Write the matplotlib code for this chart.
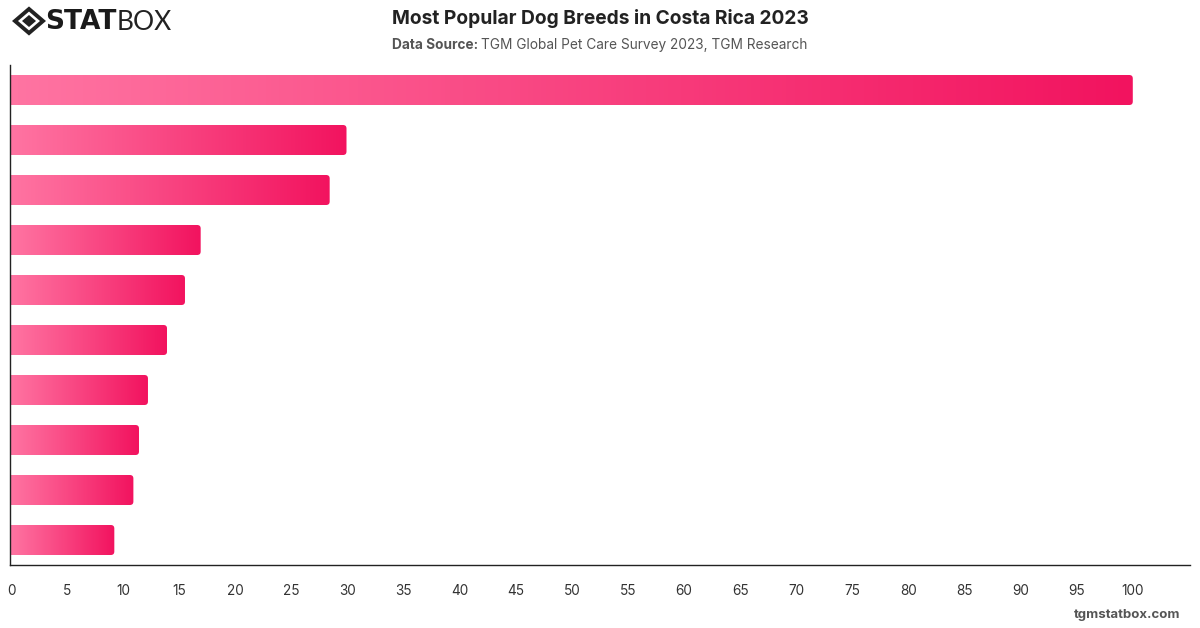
import numpy as np
import matplotlib
matplotlib.use("Agg")
import matplotlib.pyplot as plt
from matplotlib.patches import FancyBboxPatch, Polygon
from matplotlib.colors import LinearSegmentedColormap

# values, top bar first
values = [100, 29.9, 28.4, 16.9, 15.5, 13.9, 12.2, 11.4, 10.9, 9.2]
xticks = list(range(0, 105, 5))

title = "Most Popular Dog Breeds in Costa Rica 2023"
source_bold = "Data Source: "
source_text = "TGM Global Pet Care Survey 2023, TGM Research"

plt.rcParams['font.family'] = ['Inter', 'DejaVu Sans']

W, H = 1200, 628
fig = plt.figure(figsize=(W / 100, H / 100), dpi=100)
fig.patch.set_facecolor('white')

ax_l, ax_r, ax_t, ax_b = 10, 1190, 65, 565
ax = fig.add_axes([ax_l / W, 1 - ax_b / H, (ax_r - ax_l) / W, (ax_b - ax_t) / H])

xmin, xmax = -0.1, 105.1
n = len(values)
ax.set_xlim(xmin, xmax)
ax.set_ylim(n, 0)

px_per_x = (ax_r - ax_l) / (xmax - xmin)
px_per_y = (ax_b - ax_t) / n
cmap = LinearSegmentedColormap.from_list('pink', ['#ff74a2', '#f2135f'])
grad = np.linspace(0, 1, 256).reshape(1, -1)

bar_h = 0.6
rad_px = 3.5
for i, v in enumerate(values):
    y0 = i + (1 - bar_h) / 2
    x0 = -1.0
    patch = FancyBboxPatch((x0, y0), v - x0, bar_h,
                           boxstyle="round,pad=0,rounding_size=%f" % (rad_px / px_per_x),
                           mutation_aspect=px_per_x / px_per_y,
                           facecolor='none', edgecolor='none')
    ax.add_patch(patch)
    im = ax.imshow(grad, cmap=cmap, aspect='auto', extent=[0, v, y0 + bar_h, y0],
                   interpolation='bicubic', zorder=2)
    im.set_clip_path(patch)

ax.set_xlim(xmin, xmax)
ax.set_ylim(n, 0)
ax.set_xticks(xticks)
ax.set_xticklabels([str(t) for t in xticks])
ax.set_yticks([])
ax.tick_params(axis='x', length=0, pad=14, labelsize=9.8, labelcolor='#333333')
for s in ['top', 'right']:
    ax.spines[s].set_visible(False)
ax.spines['left'].set_color('#222222')
ax.spines['bottom'].set_color('#222222')
ax.spines['left'].set_linewidth(1.0)
ax.spines['bottom'].set_linewidth(1.0)

# title and source
fig.text(600 / W, 1 - 18 / H, title, ha='center', va='center', fontsize=13.8,
         fontweight='bold', color='#222222')
t1 = fig.text(392 / W, 1 - 45 / H, source_bold, ha='left', va='center', fontsize=9.85,
              fontweight='bold', color='#555555')
fig.canvas.draw()
bb = t1.get_window_extent()
fig.text(bb.x1 / W, 1 - 45 / H, source_text, ha='left', va='center', fontsize=9.85,
         color='#555555')

# logo
cx, cy = 29, 21
outer = [(cx - 14, cy), (cx, cy - 12), (cx + 14, cy), (cx, cy + 12)]
inner = [(cx - 7, cy), (cx, cy - 6), (cx + 7, cy), (cx, cy + 6)]
fig.patches.append(Polygon([(x / W, 1 - y / H) for x, y in outer], closed=True,
                           fill=False, edgecolor='#222222', linewidth=2.8,
                           transform=fig.transFigure, figure=fig))
fig.patches.append(Polygon([(x / W, 1 - y / H) for x, y in inner], closed=True,
                           facecolor='#222222', edgecolor='none',
                           transform=fig.transFigure, figure=fig))
s1 = fig.text(45 / W, 1 - 22 / H, "STAT", ha='left', va='center', fontsize=19,
              fontweight='bold', family=['DejaVu Sans'], color='#1a1a1a')
fig.canvas.draw()
bb = s1.get_window_extent()
fig.text(bb.x1 / W, 1 - 22 / H, "BOX", ha='left', va='center', fontsize=19,
         fontweight='normal', family=['Lato', 'DejaVu Sans'], color='#222222')

# footer
fig.text(1180 / W, 1 - 615 / H, "tgmstatbox.com", ha='right', va='center', fontsize=9.5,
         fontweight='bold', color='#555555')

fig.savefig('out.png', dpi=100)
